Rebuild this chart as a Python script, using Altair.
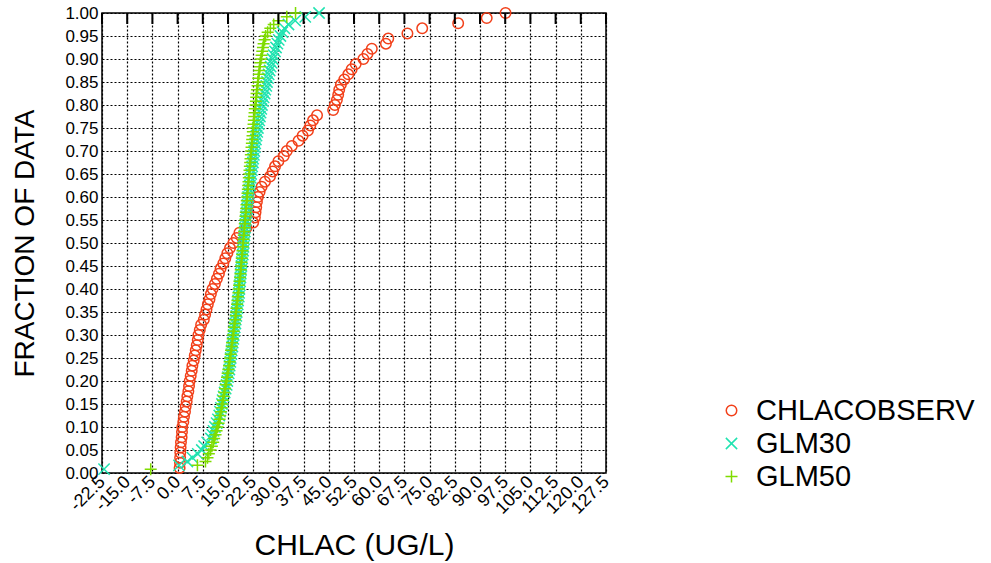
import altair as alt
import pandas as pd

series_names = ["CHLACOBSERV", "GLM30", "GLM50"]
series_colors = ["#f2401a", "#1fe3b0", "#7fdc00"]
series_shapes = ["circle", "M-1,-1L1,1M-1,1L1,-1", "M-1,0L1,0M0,-1L0,1"]
series_sizes = [110, 144, 144]

chlacobserv = [
    0.6, 0.7, 0.75, 0.8, 0.9, 1.0, 1.2, 1.3, 1.4, 1.7,
    1.9, 2.2, 2.4, 2.7, 2.9, 3.2, 3.4, 3.6, 3.9, 4.2,
    4.4, 4.8, 5.1, 5.4, 5.7, 6.0, 6.2, 6.6, 7.0, 7.8,
    8.2, 8.6, 9.0, 9.5, 9.9, 10.4, 11.1, 11.7, 12.3, 12.8,
    13.6, 14.2, 14.8, 15.6, 16.6, 17.6, 18.4, 20.5, 22.5, 23.0,
    23.2, 23.4, 23.6, 23.9, 24.4, 25.0, 26.0, 27.5, 28.3, 29.0,
    30.0, 31.6, 32.5, 34.0, 36.0, 37.2, 38.8, 39.5, 40.3, 41.5,
    46.3, 46.8, 47.4, 47.8, 48.1, 48.6, 49.6, 50.8, 51.8, 53.0,
    55.3, 56.5, 57.8, 62.0, 62.7, 68.4, 72.8, 83.5, 92.0, 97.6,
]

glm30 = [
    -21.9, 0.4, 2.9, 4.4, 6.0, 7.2, 7.9, 8.8, 9.9, 10.3,
    10.7, 11.1, 11.6, 12.0, 12.4, 12.6, 12.9, 13.2, 13.4, 13.7,
    14.0, 14.3, 14.6, 14.8, 15.0, 15.2, 15.4, 15.5, 15.7, 15.8,
    16.0, 16.1, 16.3, 16.4, 16.6, 16.7, 16.9, 17.0, 17.2, 17.3,
    17.5, 17.6, 17.8, 17.9, 18.0, 18.2, 18.3, 18.4, 18.5, 18.6,
    18.7, 18.8, 18.9, 19.0, 19.1, 19.2, 19.4, 19.5, 19.6, 19.7,
    19.8, 19.9, 20.0, 20.1, 20.2, 20.3, 20.4, 20.6, 20.7, 20.8,
    20.9, 21.0, 21.2, 21.3, 21.5, 21.6, 21.8, 21.9, 22.1, 22.2,
    22.4, 22.5, 22.7, 22.8, 23.0, 23.1, 23.3, 23.5, 23.7, 23.9,
    24.1, 24.3, 24.5, 24.7, 24.9, 25.1, 25.4, 25.6, 25.9, 26.1,
    26.4, 26.6, 26.9, 27.1, 27.4, 27.7, 28.0, 28.3, 28.6, 29.0,
    29.3, 29.7, 30.1, 30.6, 31.2, 31.8, 33.0, 35.0, 38.0, 42.1,
]

glm50 = [
    -8.0, 5.9, 8.3, 8.9, 9.3, 9.8, 10.2, 10.6, 10.9, 11.3,
    11.6, 11.9, 12.2, 12.5, 12.7, 12.9, 13.1, 13.3, 13.5, 13.7,
    13.9, 14.1, 14.3, 14.5, 14.7, 14.9, 15.1, 15.3, 15.5, 15.6,
    15.8, 15.9, 16.1, 16.2, 16.4, 16.5, 16.7, 16.8, 17.0, 17.1,
    17.3, 17.4, 17.5, 17.7, 17.8, 17.9, 18.1, 18.2, 18.3, 18.4,
    18.6, 18.7, 18.8, 18.9, 19.0, 19.1, 19.2, 19.3, 19.4, 19.5,
    19.6, 19.7, 19.8, 19.9, 20.0, 20.1, 20.2, 20.3, 20.4, 20.5,
    20.6, 20.7, 20.8, 20.9, 21.0, 21.1, 21.2, 21.3, 21.4, 21.5,
    21.6, 21.7, 21.8, 21.9, 22.0, 22.1, 22.2, 22.3, 22.4, 22.5,
    22.6, 22.7, 22.8, 22.9, 23.0, 23.2, 23.3, 23.4, 23.5, 23.6,
    23.8, 23.9, 24.0, 24.2, 24.3, 24.5, 24.6, 24.8, 25.0, 25.2,
    25.4, 25.6, 25.9, 26.2, 26.8, 27.6, 28.6, 30.0, 32.5, 35.1,
]

x_ticks = [-22.5, -15.0, -7.5, 0.0, 7.5, 15.0, 22.5, 30.0, 37.5, 45.0, 52.5,
           60.0, 67.5, 75.0, 82.5, 90.0, 97.5, 105.0, 112.5, 120.0, 127.5]
y_ticks = [0.0, 0.05, 0.10, 0.15, 0.20, 0.25, 0.30, 0.35, 0.40, 0.45, 0.50,
           0.55, 0.60, 0.65, 0.70, 0.75, 0.80, 0.85, 0.90, 0.95, 1.00]

df = pd.DataFrame({
    "series": ["CHLACOBSERV"] * len(chlacobserv) + ["GLM30"] * len(glm30) + ["GLM50"] * len(glm50),
    "value": chlacobserv + glm30 + glm50,
})

FONT = "Liberation Sans"

legend_opts = dict(title=None, orient="none", legendX=615, legendY=383,
                   labelFontSize=29, labelFont=FONT, labelColor="black", labelLimit=0,
                   symbolSize=170, symbolStrokeWidth=1.5, rowPadding=3, labelOffset=10)

x_label_expr = "replace(format(datum.value, '.1f'), '\u2212', '-')"

x_enc = alt.X("value:Q",
              scale=alt.Scale(domain=[-22.5, 127.5], nice=False, zero=False),
              axis=alt.Axis(values=x_ticks, labelExpr=x_label_expr, title="CHLAC (UG/L)",
                            labelAngle=315, labelAlign="right", labelBaseline="middle",
                            labelPadding=6, labelOverlap=False, labelFontSize=18,
                            labelBound=False, labelFlush=False,
                            titleFontSize=30, titleX=252, titleY=72,
                            titleAlign="center", titleBaseline="middle"))

points = (
    alt.Chart(df)
    .transform_joinaggregate(n="count()", groupby=["series"])
    .transform_window(rn="row_number()", sort=[alt.SortField("value", order="ascending")], groupby=["series"])
    .transform_calculate(frac="datum.rn / datum.n",
                         sidx="indexof(['CHLACOBSERV','GLM30','GLM50'], datum.series)")
    .mark_point(filled=False, strokeWidth=1.5, opacity=1)
    .encode(
        x=x_enc,
        y=alt.Y("frac:Q",
                scale=alt.Scale(domain=[0, 1], nice=False),
                axis=alt.Axis(values=y_ticks, format=".2f", title="FRACTION OF DATA",
                              labelPadding=4, labelOverlap=False, labelFontSize=17,
                              labelFlush=False,
                              titleFontSize=28, titleAngle=270, titleX=-77, titleY=230,
                              titleAlign="center", titleBaseline="middle")),
        color=alt.Color("series:N",
                        scale=alt.Scale(domain=series_names, range=series_colors),
                        legend=alt.Legend(**legend_opts)),
        shape=alt.Shape("series:N",
                        scale=alt.Scale(domain=series_names, range=series_shapes),
                        legend=alt.Legend(**legend_opts)),
        size=alt.Size("series:N",
                      scale=alt.Scale(domain=series_names, range=series_sizes),
                      legend=None),
        order=alt.Order("sidx:Q"),
    )
)

top_ticks = (
    alt.Chart(pd.DataFrame({"value": x_ticks}))
    .mark_rule(color="black", strokeWidth=2)
    .encode(x=x_enc, y=alt.value(0), y2=alt.value(11))
)

chart = (
    alt.layer(points, top_ticks)
    .properties(width=504, height=460, autosize="none",
                padding={"left": 102, "top": 13, "right": 385, "bottom": 90})
    .configure(font=FONT)
    .configure_view(stroke="black", strokeWidth=1.5)
    .configure_axis(grid=True, gridColor="black", gridDash=[2, 2], gridWidth=1.2, gridOpacity=1,
                    domain=False, ticks=False, labelOverlap=False, labelFont=FONT, labelColor="black",
                    titleFont=FONT, titleFontWeight="normal", titleColor="black")
)

chart.save("out.html", embed_options={"renderer": "svg", "actions": False})
